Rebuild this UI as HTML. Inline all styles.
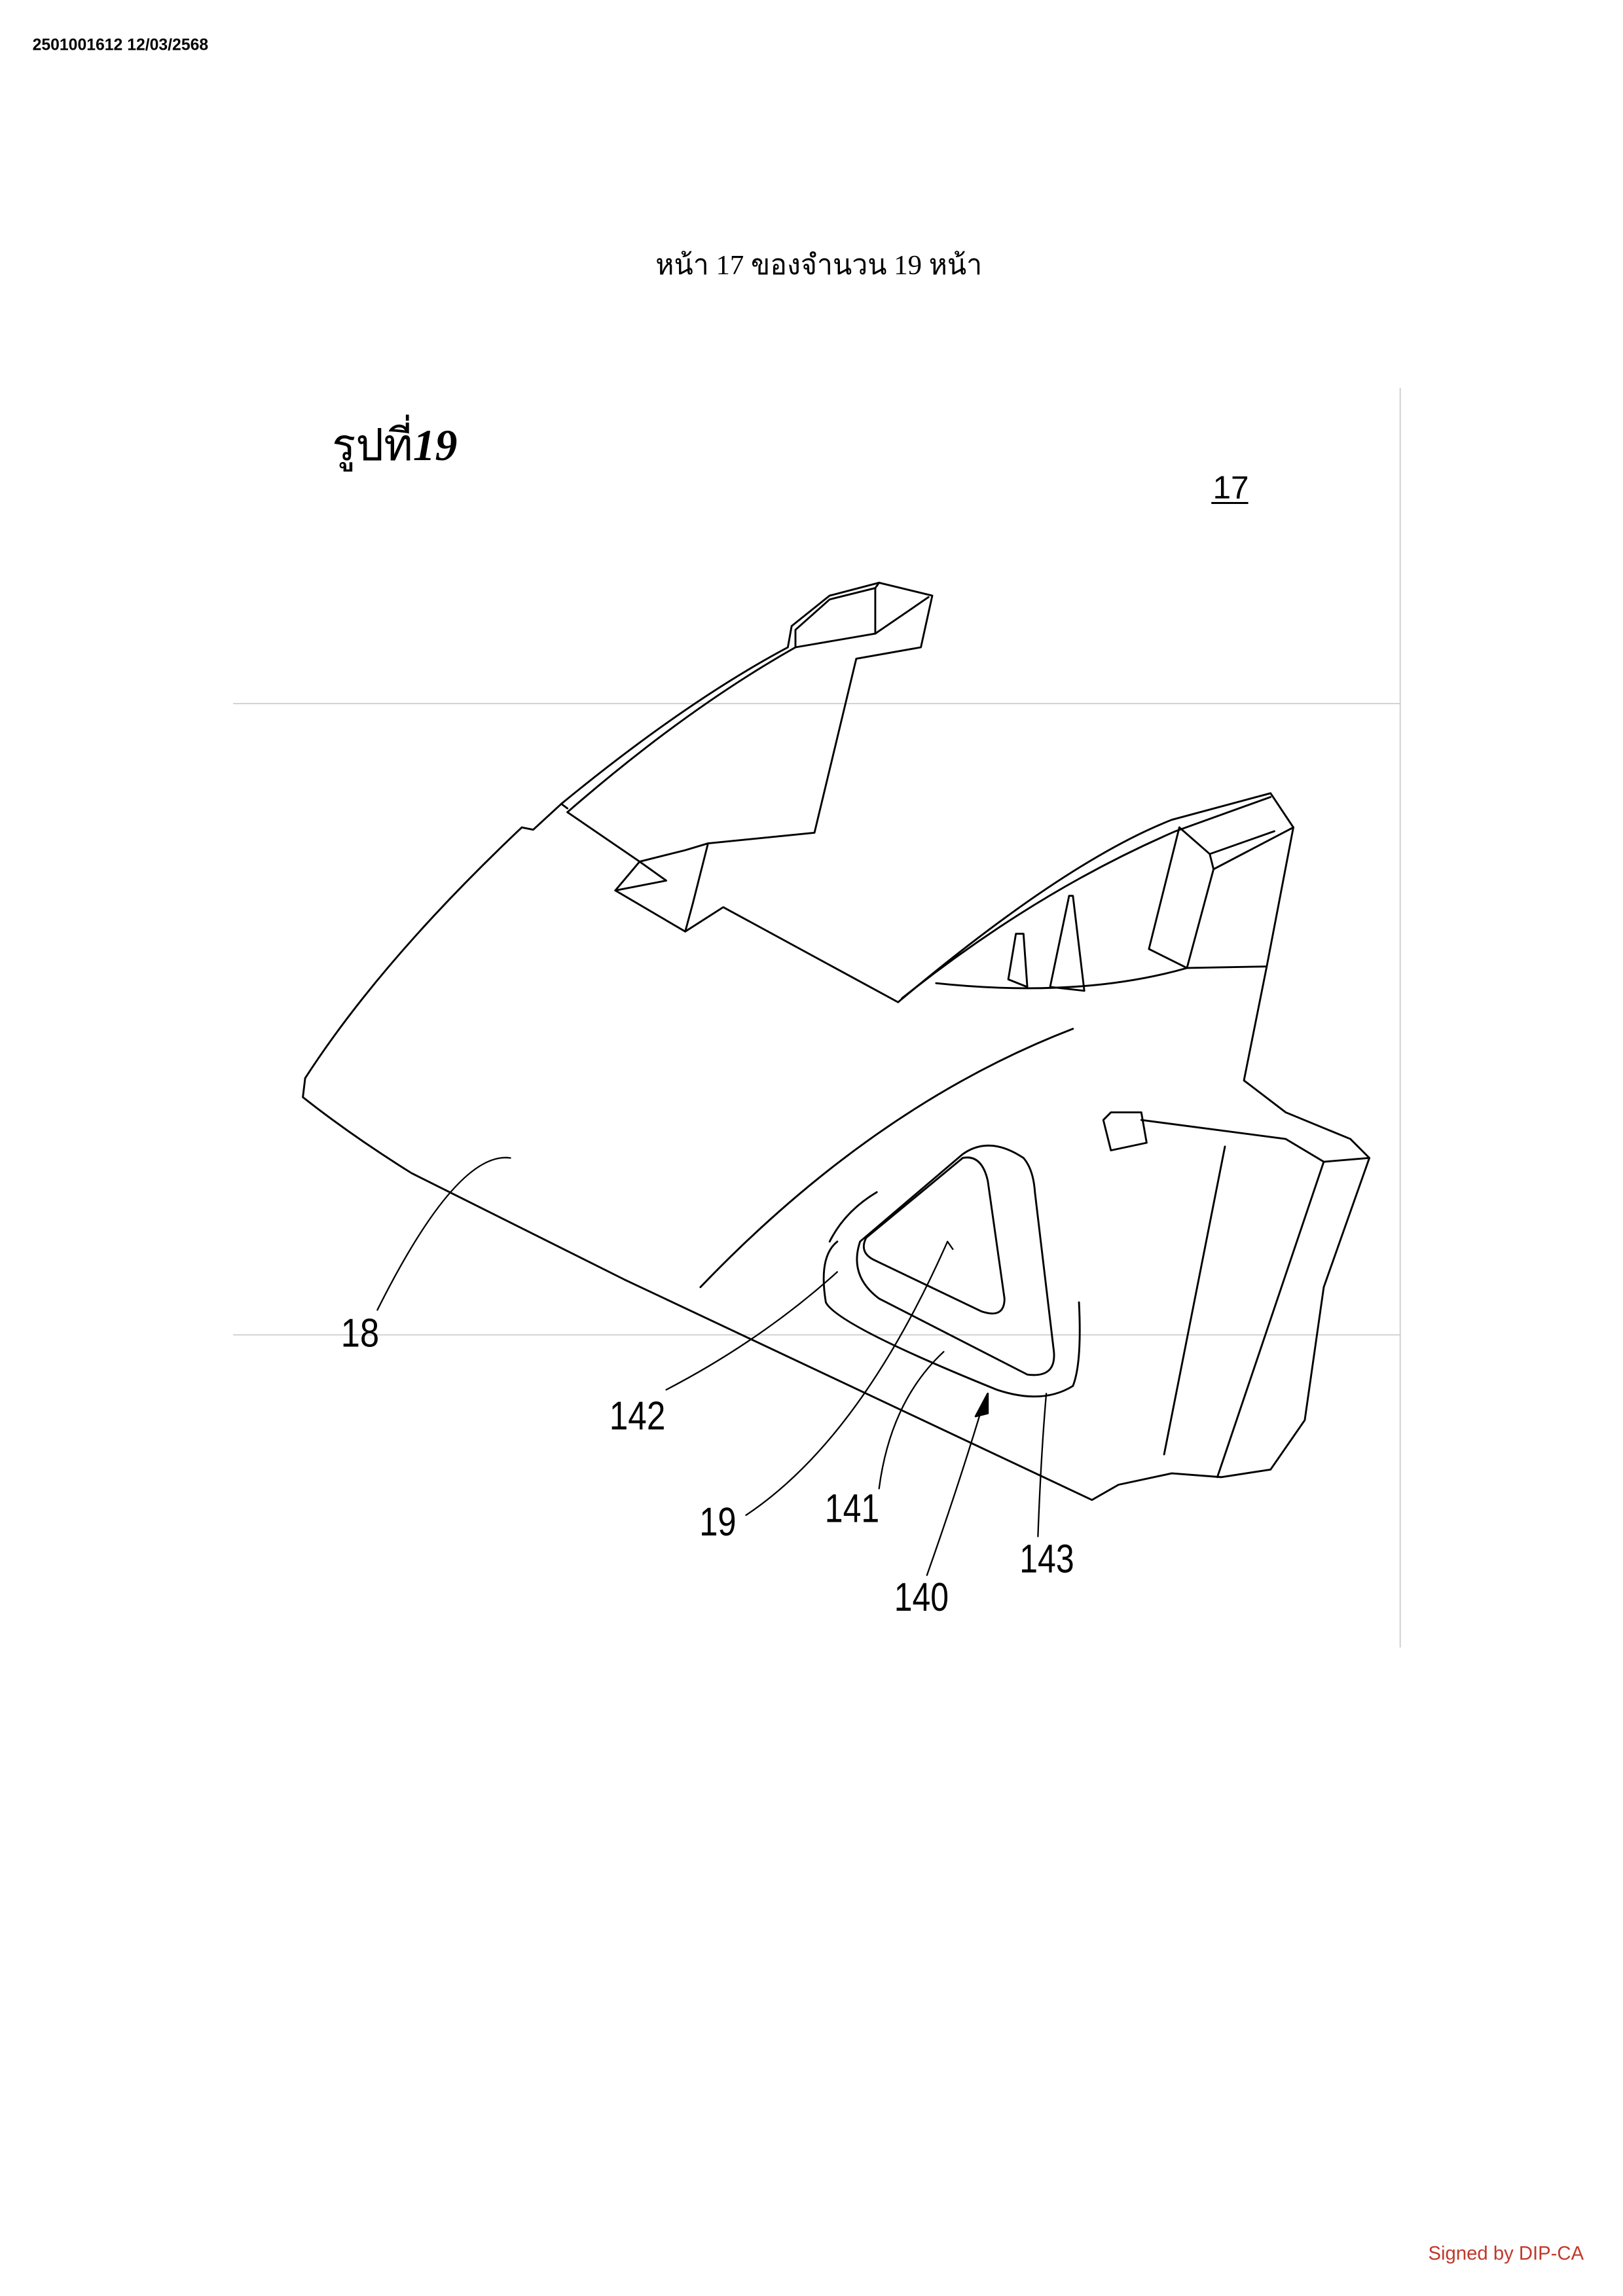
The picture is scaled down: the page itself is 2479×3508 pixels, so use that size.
<!DOCTYPE html>
<html><head><meta charset="utf-8"><style>
html,body{margin:0;padding:0;background:#fff;}
svg{display:block;}
</style></head><body>
<svg width="2479" height="3508" viewBox="0 0 1100 1556.6" xmlns="http://www.w3.org/2000/svg">
<rect width="1100" height="1556.6" fill="#fff"/>
<text x="22" y="34" font-family="Liberation Sans, sans-serif" font-weight="bold" font-size="11">2501001612 12/03/2568</text>
<text x="555" y="186" text-anchor="middle" font-family="Liberation Serif, 'Noto Serif CJK SC', serif" font-size="19">หน้า 17 ของจำนวน 19 หน้า</text>
<line x1="949" y1="263" x2="949" y2="1117" stroke="#ccc" stroke-width="0.8"/>
<line x1="158" y1="477" x2="949" y2="477" stroke="#ccc" stroke-width="0.8"/>
<line x1="158" y1="905" x2="949" y2="905" stroke="#ccc" stroke-width="0.8"/>
<text x="225" y="312" font-family="Liberation Serif, serif" font-size="30">รูปที่<tspan font-style="italic" font-weight="bold">19</tspan></text>
<text x="822" y="338" font-family="Liberation Sans, sans-serif" font-size="22">17</text>
<line x1="821" y1="341" x2="846" y2="341" stroke="#000" stroke-width="1.3"/>
<text x="968" y="1532" font-family="Liberation Sans, sans-serif" font-size="13" fill="#c0392b">Signed by DIP-CA</text>

<g transform="translate(155.3,244.1) scale(0.5152)" fill="none" stroke="#000" stroke-width="2.5" stroke-linejoin="round" stroke-linecap="round">
<!-- main body outline -->
<path d="M385 615 L400 618 L437 584 L445 590"/>
<path d="M385 615 Q200 790 100 945 L97 970 Q160 1020 240 1070 L520 1210 L1135 1500 L1170 1480 L1240 1465 L1305 1470 L1370 1460 L1415 1395 L1440 1220 L1500 1050 L1475 1025 L1390 990 L1335 948 L1365 798 L1400 615 L1370 570 L1240 605 Q1100 660 880 845 L650 720 L600 752 L508 698 L540 660 L600 645 L630 636 L770 622 L825 393 L910 378 L925 310 L855 293 L790 310 L740 350 L735 378 Q600 450 437 584"/>
<!-- double line upper arm -->
<path d="M445 595 Q600 460 745 378 L850 360 L920 312"/>
<path d="M745 378 L745 355 L790 315 L850 300 L855 293"/>
<path d="M850 300 L850 360"/>
<path d="M445 595 L540 660"/>
<path d="M540 660 L575 685 L508 698"/>
<path d="M630 636 L610 715 L600 752"/>
<!-- right arm double line -->
<path d="M885 840 Q1060 700 1245 620 L1370 575"/>
<!-- tower -->
<path d="M1250 615 L1210 775 L1260 800 L1295 670 L1400 615"/>
<path d="M1295 670 L1290 650 L1250 615"/>
<path d="M1290 650 L1375 620"/>
<path d="M1260 800 L1365 798"/>
<path d="M1260 800 Q1120 840 930 820"/>
<!-- fins -->
<path d="M1035 755 L1025 815 L1050 825 L1045 755 Z"/>
<path d="M1105 705 L1080 825 L1125 830 L1110 705 Z"/>
<!-- surface curve -->
<path d="M1110 880 Q850 980 620 1220"/>
<!-- tab -->
<path d="M1160 990 L1200 990 L1207 1030 L1160 1040 L1150 1000 Z"/>
<path d="M1200 1000 L1390 1025 L1440 1055 L1500 1050"/>
<path d="M1440 1055 L1300 1470"/>
<path d="M1310 1035 L1230 1440"/>
<!-- triangle recess outer -->
<path d="M830 1160 L965 1045 Q1000 1020 1045 1050 Q1058 1065 1060 1095 L1085 1305 Q1088 1340 1050 1335 L855 1235 Q815 1205 830 1160 Z"/>
<!-- inner -->
<path d="M838 1155 L965 1050 Q990 1045 998 1080 L1020 1235 Q1020 1262 990 1252 L850 1185 Q828 1175 838 1155 Z"/>
<!-- outer arcs -->
<path d="M800 1160 Q775 1180 785 1240 Q800 1270 1010 1355 Q1070 1375 1110 1350 Q1122 1320 1118 1240"/>
<path d="M852 1095 Q810 1120 790 1160"/>
<!-- leaders -->
<path d="M370 1050 Q300 1040 195 1250" stroke-width="2"/>
<path d="M575 1355 Q700 1290 800 1200" stroke-width="2"/>
<path d="M680 1520 Q830 1420 945 1160 L952 1170" stroke-width="2"/>
<path d="M855 1485 Q870 1370 940 1305" stroke-width="2"/>
<path d="M918 1599 Q960 1480 993 1370" stroke-width="2"/>
<path d="M998 1360 L982 1390 L998 1386 Z" fill="#000"/>
<path d="M1064 1548 Q1068 1440 1075 1360" stroke-width="2"/>
</g>
<g font-family="Liberation Sans, sans-serif" font-size="27" fill="#000">
<text x="231" y="913" textLength="26" lengthAdjust="spacingAndGlyphs">18</text>
<text x="413" y="969" textLength="38" lengthAdjust="spacingAndGlyphs">142</text>
<text x="474" y="1041" textLength="25" lengthAdjust="spacingAndGlyphs">19</text>
<text x="559" y="1032" textLength="37" lengthAdjust="spacingAndGlyphs">141</text>
<text x="606" y="1092" textLength="37" lengthAdjust="spacingAndGlyphs">140</text>
<text x="691" y="1066" textLength="37" lengthAdjust="spacingAndGlyphs">143</text>
</g>
</svg>
</body></html>
